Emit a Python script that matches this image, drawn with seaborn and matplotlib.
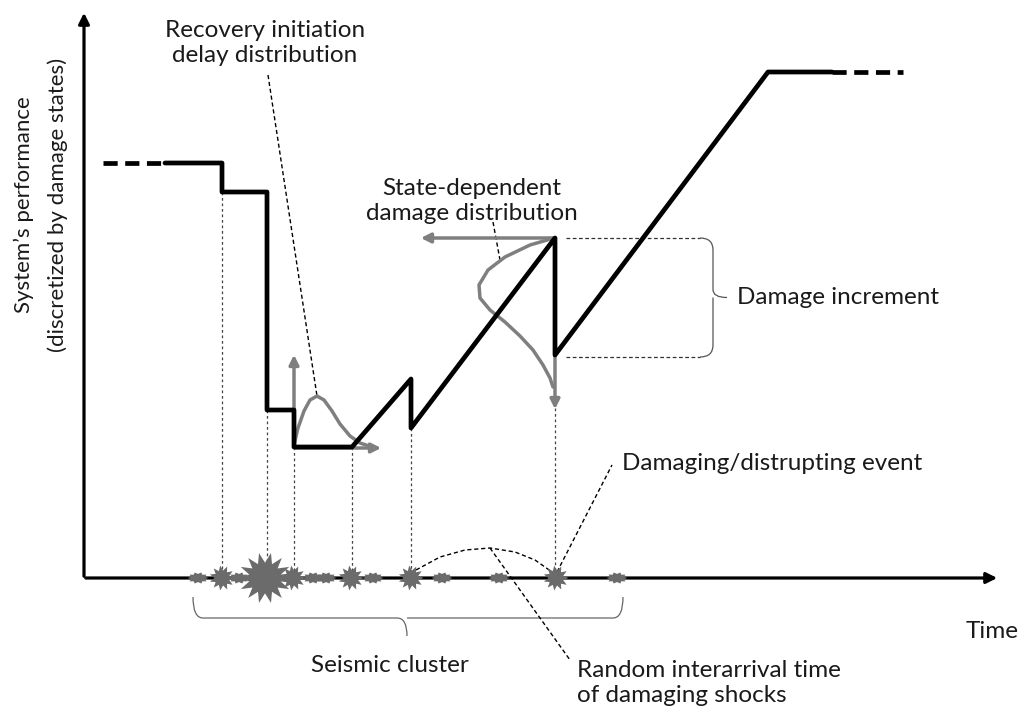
import numpy as np
import matplotlib
matplotlib.use("Agg")
import matplotlib.pyplot as plt
from matplotlib.path import Path
from matplotlib.patches import PathPatch
import seaborn as sns
import pandas as pd

# performance path (time, level) -- drawn in a pixel-like frame, y grows downward
path_time = [165, 222, 222, 267, 267, 294, 294, 352, 411, 411, 555, 555, 768, 832]
path_level = [163, 163, 192, 192, 410, 410, 447, 447, 379, 428, 238, 355, 72, 72]
lead_in_time = [103, 165]
lead_in_level = [163, 163]
lead_out_time = [832, 903]
lead_out_level = [72, 72]

# recovery initiation delay distribution
delay_time = [294, 298, 304, 310, 317, 324, 332, 340, 350, 360, 372]
delay_level = [445, 428, 411, 400, 396, 400, 411, 424, 436, 443, 447]

# state-dependent damage distribution (sideways, hanging from the peak)
dmg_time = [554, 530, 505, 488, 479, 480, 490, 505, 520, 533, 543, 550, 553]
dmg_level = [238, 245, 257, 270, 285, 298, 310, 322, 336, 350, 365, 378, 387]

# damaging events on the time axis
event_time = [198, 222, 239, 265, 293, 313, 326, 351, 373, 411, 442, 499, 556, 617]
event_kind = ['small', 'mid', 'small', 'big', 'mid', 'small', 'small', 'mid',
              'small', 'mid', 'small', 'small', 'mid', 'small']

# event times that are projected down from the performance curve
drop_time = [222, 267, 294, 352, 411, 555]
drop_level = [192, 410, 447, 447, 428, 408]

# interarrival arc between two damaging shocks
arc_time = [416, 440, 465, 490, 515, 535, 552]
arc_level = [570, 557, 550, 548, 552, 560, 572]

sns.set_theme(style="white")
plt.rcParams['font.family'] = ['Lato', 'DejaVu Sans']

fig = plt.figure(figsize=(10.28, 7.09), dpi=100)
ax = fig.add_axes([0, 0, 1, 1])
ax.set_xlim(0, 1028)
ax.set_ylim(709, 0)
ax.axis('off')

BLACK = '#000000'
GREY = '#7f7f7f'
TXT = '#1a1a1a'
AXIS_Y = 578
AXIS_X = 84

# axes arrows
ax.annotate('', xy=(1000, AXIS_Y), xytext=(AXIS_X - 1, AXIS_Y),
            arrowprops=dict(arrowstyle='-|>', lw=2.3, color=BLACK, mutation_scale=16))
ax.annotate('', xy=(AXIS_X, 10), xytext=(AXIS_X, AXIS_Y + 1),
            arrowprops=dict(arrowstyle='-|>', lw=2.3, color=BLACK, mutation_scale=16))

# dotted projections
for t, lv in zip(drop_time, drop_level):
    ax.plot([t, t], [lv, AXIS_Y], color='#444444', lw=0.9, ls=(0, (2.2, 2.2)), zorder=1)

# performance path
perf = pd.DataFrame({'t': path_time, 'p': path_level})
sns.lineplot(data=perf, x='t', y='p', sort=False, estimator=None, color=BLACK, lw=3.4, ax=ax,
             zorder=4)
ax.plot(lead_in_time, lead_in_level, color=BLACK, lw=3.4, ls=(0, (3, 1.6)), zorder=4)
ax.plot(lead_out_time, lead_out_level, color=BLACK, lw=3.4, ls=(0, (3, 1.6)), zorder=4)

# recovery delay distribution + its small axes
sns.lineplot(x=delay_time, y=delay_level, sort=False, estimator=None, color=GREY, lw=2.5, ax=ax,
             zorder=3)
ax.annotate('', xy=(294, 352), xytext=(294, 447),
            arrowprops=dict(arrowstyle='-|>', lw=2.5, color=GREY, mutation_scale=14), zorder=3)
ax.annotate('', xy=(384, 448), xytext=(292, 448),
            arrowprops=dict(arrowstyle='-|>', lw=2.5, color=GREY, mutation_scale=14), zorder=3)

# damage distribution + its axes
sns.lineplot(x=dmg_time, y=dmg_level, sort=False, estimator=None, color=GREY, lw=2.5, ax=ax,
             zorder=3)
ax.annotate('', xy=(418, 238), xytext=(556, 238),
            arrowprops=dict(arrowstyle='-|>', lw=2.5, color=GREY, mutation_scale=14), zorder=3)
ax.annotate('', xy=(555, 412), xytext=(555, 237),
            arrowprops=dict(arrowstyle='-|>', lw=2.5, color=GREY, mutation_scale=14), zorder=3)

# damage increment guides and brace
for lv in (238, 357):
    ax.plot([566, 700], [lv, lv], color='#333333', lw=0.9, ls=(0, (3, 2)), zorder=1)
bx, top, bot, tip = 713, 238, 357, 727
mid = (top + bot) / 2
verts = [(700, top), (bx, top), (bx, top + 12), (bx, mid - 8), (bx, mid), (tip, mid),
         (bx, mid), (bx, mid + 8), (bx, bot - 12), (bx, bot), (700, bot)]
codes = [Path.MOVETO, Path.CURVE3, Path.CURVE3, Path.LINETO, Path.CURVE3, Path.CURVE3,
         Path.MOVETO, Path.CURVE3, Path.LINETO, Path.CURVE3, Path.CURVE3]
ax.add_patch(PathPatch(Path(verts, codes), fill=False, lw=0.9, color='#555555'))

# seismic cluster brace
by, bl, br, btip = 618, 193, 623, 407
verts = [(bl, 597), (bl, by), (bl + 10, by), (btip - 10, by), (btip, by), (btip, 636),
         (btip, by), (btip + 10, by), (br - 10, by), (br, by), (br, 597)]
ax.add_patch(PathPatch(Path(verts, codes), fill=False, lw=0.9, color='#666666'))

# interarrival arc and leader lines
sns.lineplot(x=arc_time, y=arc_level, sort=False, estimator=None, color=BLACK, lw=1.0,
             ls=(0, (3, 2)), ax=ax)
ax.plot([490, 570], [548, 660], color=BLACK, lw=1.0, ls=(0, (3, 2)))
ax.plot([557, 612], [572, 465], color=BLACK, lw=1.0, ls=(0, (3, 2)))
ax.plot([268, 317], [75, 396], color=BLACK, lw=1.0, ls=(0, (3, 2)), zorder=2)
ax.plot([493, 500], [222, 260], color=BLACK, lw=1.0, ls=(0, (3, 2)), zorder=2)

# star-burst markers for the shocks
def burst(n, inner, squash):
    ang = np.linspace(0, 2 * np.pi, 2 * n, endpoint=False)
    r = np.where(np.arange(2 * n) % 2 == 0, 1.0, inner)
    v = np.column_stack([r * np.cos(ang), squash * r * np.sin(ang)])
    return Path(np.vstack([v, v[:1]]), closed=True)

kinds = {'small': (burst(10, 0.7, 0.55), 230),
         'mid': (burst(11, 0.6, 1.0), 330),
         'big': (burst(14, 0.6, 0.95), 1500)}
for k, (mk, s) in kinds.items():
    ts = [t for t, kk in zip(event_time, event_kind) if kk == k]
    sns.scatterplot(x=ts, y=[AXIS_Y] * len(ts), marker=mk, s=s, color='#6b6b6b',
                    edgecolor='none', ax=ax, zorder=5)

# texts
fs = 17.5
kw = dict(fontsize=fs, color=TXT)
ax.text(265, 43, 'Recovery initiation\ndelay distribution', ha='center', va='center',
        linespacing=1.2, **kw)
ax.text(472, 201, 'State-dependent\ndamage distribution', ha='center', va='center',
        linespacing=1.2, **kw)
ax.text(737, 298, 'Damage increment', ha='left', va='center', **kw)
ax.text(622, 464, 'Damaging/distrupting event', ha='left', va='center', **kw)
ax.text(390, 665, 'Seismic cluster', ha='center', va='center', **kw)
ax.text(577, 683, 'Random interarrival time\nof damaging shocks', ha='left', va='center',
        linespacing=1.2, **kw)
ax.text(966, 632, 'Time', ha='left', va='center', **kw)
ax.text(24, 205, 'System\u2019s performance', rotation=90, ha='center', va='center',
        fontsize=16, color=TXT)
ax.text(58, 205, '(discretized by damage states)', rotation=90, ha='center', va='center',
        fontsize=16, color=TXT)

fig.savefig('out.png', dpi=100, facecolor='white')
